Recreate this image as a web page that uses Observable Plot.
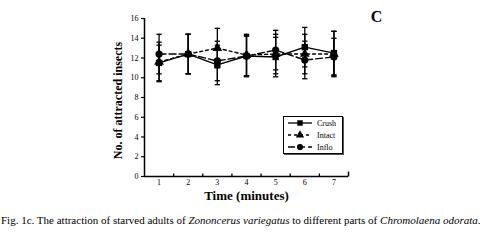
<!DOCTYPE html>
<html>
<head>
<meta charset="utf-8">
<script src="https://cdn.jsdelivr.net/npm/d3@7"></script>
<script src="https://cdn.jsdelivr.net/npm/@observablehq/plot@0.6"></script>
<style>
  html, body { margin: 0; padding: 0; background: white; }
  #wrap { position: relative; width: 489px; height: 241px; overflow: hidden; font-family: "Liberation Serif", serif; color: black; }
  #chart { position: absolute; left: 0; top: 0; }
  #caption { position: absolute; left: 1px; top: 214px; font-size: 11px; white-space: nowrap; }
  #legend { position: absolute; left: 283px; top: 116px; width: 58px; height: 36px; border: 1px solid black; box-shadow: 1px 1px 0 #555; background: white; font-size: 8px; }
  .row { display: flex; align-items: center; height: 12px; padding-left: 3px; }
  .row svg { margin-right: 4px; }
</style>
</head>
<body>
<div id="wrap">
  <div id="chart"></div>
  <div id="legend"></div>
  <div id="caption">Fig. 1c. The attraction of starved adults of <i>Zononcerus variegatus</i> to different parts of <i>Chromolaena odorata</i>.</div>
</div>
<script>
const times = [1, 2, 3, 4, 5, 6, 7];
const seriesNames = ["Crush", "Intact", "Inflo"];
const crush = [11.5, 12.4, 11.3, 12.2, 12.1, 13.1, 12.5];
const crushErr = [1.8, 2.0, 2.0, 2.0, 2.0, 2.0, 2.2];
const intact = [11.6, 12.4, 13.0, 12.3, 12.4, 12.4, 12.4];
const intactErr = [2.0, 2.0, 2.0, 2.1, 2.0, 2.0, 2.3];
const inflo = [12.4, 12.4, 11.7, 12.2, 12.8, 11.8, 12.1];
const infloErr = [2.0, 2.0, 2.0, 2.1, 2.0, 1.9, 1.9];
const yTicks = [0, 2, 4, 6, 8, 10, 12, 14, 16];
const xTitle = "Time (minutes)";
const yTitle = "No. of attracted insects";
const panelLetter = "C";

const symbols = {Crush: "square", Intact: "triangle", Inflo: "circle"};
const dashes = {Crush: null, Intact: "3,3", Inflo: "7,3"};

function rows(name, vals, errs) {
  return times.map((t, i) => ({series: name, time: t, value: vals[i], lo: vals[i] - errs[i], hi: vals[i] + errs[i]}));
}
const data = [
  ...rows("Crush", crush, crushErr),
  ...rows("Intact", intact, intactErr),
  ...rows("Inflo", inflo, infloErr)
];

const capSymbol = {
  draw(ctx, size) {
    const w = Math.sqrt(size) / 2;
    ctx.moveTo(-w, 0);
    ctx.lineTo(w, 0);
  }
};
const upTick = {
  draw(ctx, size) {
    const h = Math.sqrt(size);
    ctx.moveTo(0, 0);
    ctx.lineTo(0, -h);
  }
};

const boundaries = times.map(t => t + 0.5);

const lineMarks = seriesNames.map(name =>
  Plot.line(data.filter(d => d.series === name), {
    x: "time", y: "value", stroke: "black", strokeWidth: 1.4,
    strokeDasharray: dashes[name]
  })
);
const dotMarks = seriesNames.map(name =>
  Plot.dot(data.filter(d => d.series === name), {
    x: "time", y: "value", fill: "black", stroke: "none",
    symbol: symbols[name], r: 3.6
  })
);

const chart = Plot.plot({
  width: 489,
  height: 205,
  marginLeft: 144,
  marginRight: 141,
  marginTop: 18,
  marginBottom: 29,
  style: {fontFamily: "Liberation Serif, serif", fontSize: "8px", color: "black", background: "white", overflow: "visible"},
  x: {domain: [0.5, 7.5], label: null},
  y: {domain: [0, 16], label: null},
  marks: [
    Plot.axisY({ticks: yTicks, tickSize: 3, tickPadding: 3, label: null, strokeWidth: 1.2}),
    Plot.axisX({ticks: times, tickSize: 0, tickPadding: 3, label: null, tickFormat: d => String(d)}),
    Plot.dot(boundaries.slice(0, -1), {x: d => d, frameAnchor: "bottom", symbol: upTick, r: 1.7, stroke: "black", strokeWidth: 1.3}),
    Plot.dot(boundaries.slice(-1), {x: d => d, frameAnchor: "bottom", symbol: upTick, r: 2.8, stroke: "black", strokeWidth: 1.5}),
    Plot.ruleX([0.5], {stroke: "black", strokeWidth: 1.5}),
    Plot.ruleY([0], {stroke: "black", strokeWidth: 1.5}),
    Plot.ruleX(data, {x: "time", y1: "lo", y2: "hi", stroke: "black", strokeWidth: 1.3}),
    Plot.dot(data, {x: "time", y: "hi", symbol: capSymbol, r: 3, stroke: "black", strokeWidth: 1.3}),
    Plot.dot(data, {x: "time", y: "lo", symbol: capSymbol, r: 3, stroke: "black", strokeWidth: 1.3}),
    ...lineMarks,
    ...dotMarks,
    Plot.text([yTitle], {frameAnchor: "left", textAnchor: "middle", rotate: -90, dx: -26, dy: 3, fontWeight: "bold", fontSize: 12}),
    Plot.text([xTitle], {frameAnchor: "bottom", textAnchor: "middle", dy: 23, fontWeight: "bold", fontSize: 13}),
    Plot.text([panelLetter], {frameAnchor: "top-right", textAnchor: "middle", dx: 28, dy: -8, fontWeight: "bold", fontSize: 16})
  ]
});
document.getElementById("chart").appendChild(chart);

// legend
const legend = document.getElementById("legend");
seriesNames.forEach(name => {
  const row = document.createElement("div");
  row.className = "row";
  const svg = d3.create("svg").attr("width", 26).attr("height", 10);
  svg.append("line").attr("x1", 1).attr("x2", 25).attr("y1", 5).attr("y2", 5)
    .attr("stroke", "black").attr("stroke-width", 1.3)
    .attr("stroke-dasharray", dashes[name] || null);
  const sym = {square: d3.symbolSquare, triangle: d3.symbolTriangle, circle: d3.symbolCircle}[symbols[name]];
  svg.append("path").attr("d", d3.symbol(sym, 30)()).attr("transform", "translate(13,5)").attr("fill", "black");
  row.appendChild(svg.node());
  const span = document.createElement("span");
  span.textContent = name;
  row.appendChild(span);
  legend.appendChild(row);
});
</script>
</body>
</html>
